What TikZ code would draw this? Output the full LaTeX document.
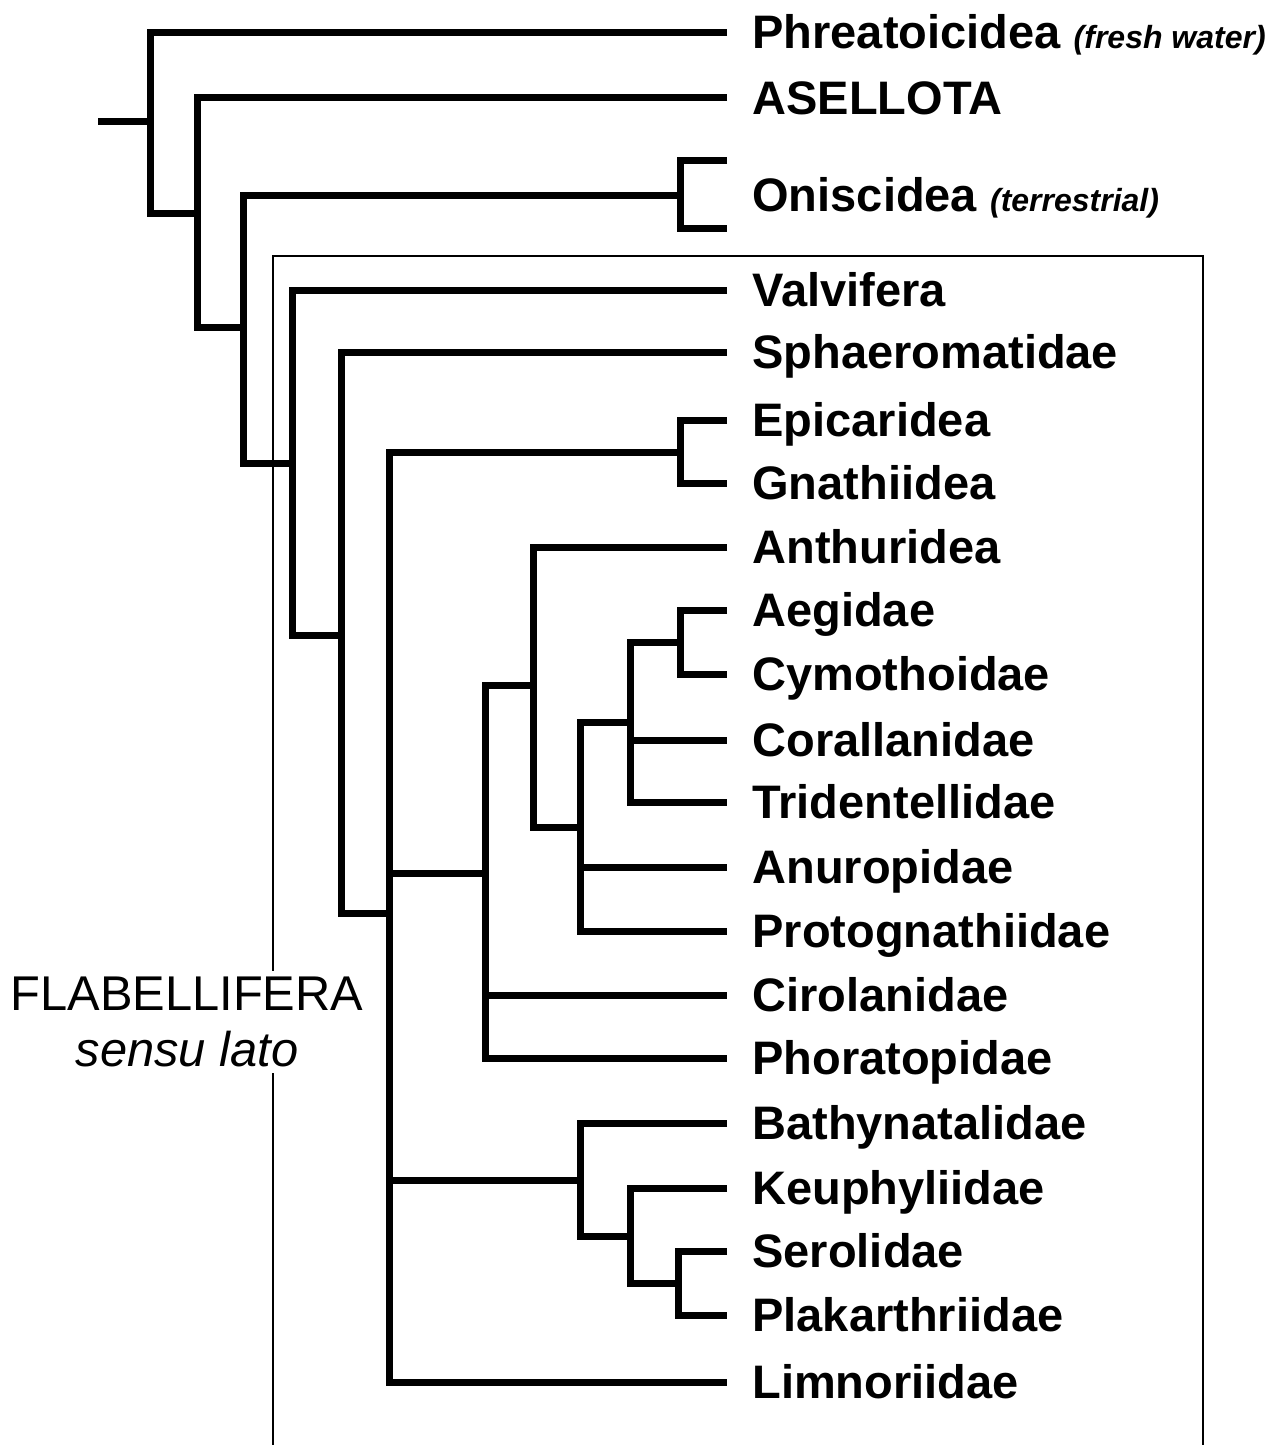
\documentclass[tikz,border=0pt]{standalone}
\usepackage{fontspec}
\setmainfont{Liberation Sans}
\usepackage{tikz}
\usetikzlibrary{positioning, calc}
\newcommand{\habitat}[1]{{\fontsize{16pt}{19pt}\selectfont\itshape(#1)}}

\begin{document}
\begin{tikzpicture}[x=0.5pt, y=-0.5pt,
  ramo/.style={line width=3.5pt, color=galho, line join=miter},
  caixa/.style={line width=1pt, color=galho},
  taxon/.style={inner sep=0pt, text height=16pt, text depth=0pt, font=\bfseries\fontsize{23.5pt}{27pt}\selectfont},
  grupo/.style={align=center, fill=white, inner xsep=2pt, inner ysep=3pt, font=\fontsize{24.4pt}{28pt}\selectfont}]
% --- CLADOGRAMA DOS ISOPODA, COM A CAIXA DE FLABELLIFERA ---
\definecolor{galho}{HTML}{000000}
\useasboundingbox (0,0) rectangle (1283,1445);

% LAYER 1: Caixa aberta em baixo
\draw[caixa] (273,1445) |- (1203,256) -- (1203,1445);

% LAYER 2: Pontas e nomes
\foreach \nome/\y/\txt in {phre/33/{Phreatoicidea \habitat{fresh water}}, asel/98/ASELLOTA,
    valv/290/Valvifera, spha/352/Sphaeromatidae, epic/420/Epicaridea, gnat/483/Gnathiidea,
    anth/547/Anthuridea, aegi/610/Aegidae, cymo/674/Cymothoidae, cora/740/Corallanidae,
    trid/802/Tridentellidae, anur/867/Anuropidae, prot/931/Protognathiidae,
    ciro/995/Cirolanidae, phor/1058/Phoratopidae, bath/1123/Bathynatalidae,
    keup/1188/Keuphyliidae, sero/1251/Serolidae, plak/1315/Plakarthriidae, limn/1382/Limnoriidae}{
  \coordinate (t-\nome) at (727,\y);
  \node[taxon, right=12.5pt of t-\nome] (\nome) {\txt};
}
\coordinate (t-onis1) at (727,160);
\coordinate (t-onis2) at (727,228);
\node[taxon, anchor=west] (onisc) at (752,195) {Oniscidea \habitat{terrestrial}};

% LAYER 3: Nos internos
\coordinate (raiz) at (98,122);
\coordinate (n0) at (150,122);
\coordinate (n1) at (197,213);
\coordinate (n2) at (243,327);
\coordinate (onis) at (680,195);
\coordinate (n3) at (292,463);
\coordinate (n4) at (341,635);
\coordinate (n5) at (389,913);
\coordinate (epi) at (680,452);
\coordinate (n6) at (485,873);
\coordinate (n7) at (533,685);
\coordinate (n8) at (580,827);
\coordinate (n9) at (630,722);
\coordinate (aeg) at (680,642);
\coordinate (n10) at (580,1180);
\coordinate (n11) at (630,1236);
\coordinate (n12) at (678,1283);

% LAYER 4: Ramos
\draw[ramo] (raiz) -- (n0);
\draw[ramo] (t-phre) -| (n0 |- n1) -- (n1);
\draw[ramo] (t-asel) -| (n1 |- n2) -- (n2);
\draw[ramo] (onis) -| (n2 |- n3) -- (n3);
\draw[ramo] (t-onis1) -| (onis) |- (t-onis2);
\draw[ramo] (t-valv) -| (n3 |- n4) -- (n4);
\draw[ramo] (t-spha) -| (n4 |- n5) -- (n5);
\draw[ramo] (epi) -| (n5 |- t-limn) -- (t-limn);
\draw[ramo] (n5 |- n6) -- (n6);
\draw[ramo] (n5 |- n10) -- (n10);
\draw[ramo] (t-epic) -| (epi) |- (t-gnat);
\draw[ramo] (n7) -| (n6 |- t-phor) -- (t-phor);
\draw[ramo] (n6 |- t-ciro) -- (t-ciro);
\draw[ramo] (t-anth) -| (n7 |- n8) -- (n8);
\draw[ramo] (n9) -| (n8 |- t-prot) -- (t-prot);
\draw[ramo] (n8 |- t-anur) -- (t-anur);
\draw[ramo] (aeg) -| (n9 |- t-trid) -- (t-trid);
\draw[ramo] (n9 |- t-cora) -- (t-cora);
\draw[ramo] (t-aegi) -| (aeg) |- (t-cymo);
\draw[ramo] (t-bath) -| (n10 |- n11) -- (n11);
\draw[ramo] (t-keup) -| (n11 |- n12) -- (n12);
\draw[ramo] (t-sero) -| (n12) |- (t-plak);

% LAYER 5: Nome do grupo por cima da caixa
\node[grupo] (flab) at (187,1022) {FLABELLIFERA\\\textit{sensu lato}};
\end{tikzpicture}
\end{document}
